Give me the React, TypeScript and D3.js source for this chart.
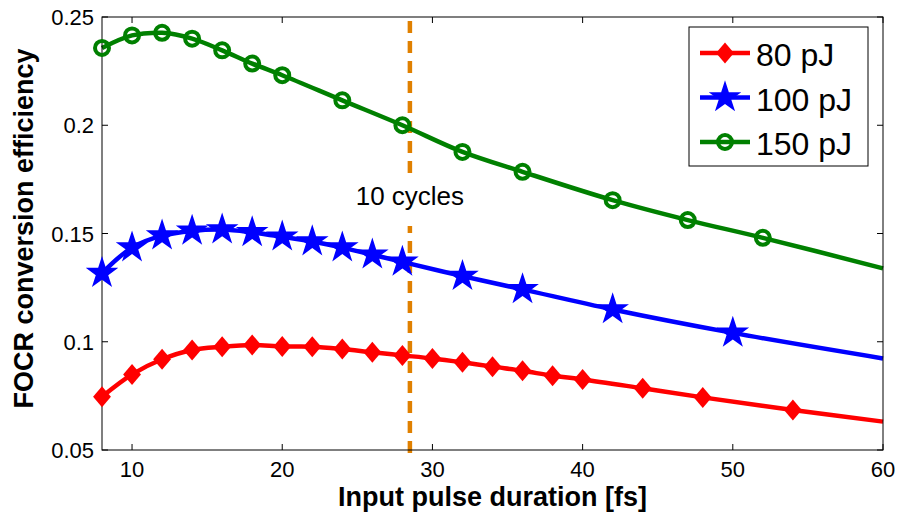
import * as d3 from "d3";
import { useEffect, useRef } from "react";

// pulse durations (fs) where markers sit, and efficiencies
const durations80 = [8, 10, 12, 14, 16, 18, 20, 22, 24, 26, 28, 30, 32, 34, 36, 38, 40, 44, 48, 54];
const eff80 = [0.0746, 0.0849, 0.0919, 0.0962, 0.0977, 0.0985, 0.0978, 0.0977, 0.0966, 0.0951, 0.0937, 0.0923, 0.0905, 0.0885, 0.0866, 0.0843, 0.0826, 0.0785, 0.0743, 0.0685];

const durations100 = [8, 10, 12, 14, 16, 18, 20, 22, 24, 26, 28, 32, 36, 42, 50];
const eff100 = [0.1317, 0.1435, 0.149, 0.1512, 0.1518, 0.1505, 0.1485, 0.1463, 0.1435, 0.1402, 0.1369, 0.1303, 0.1242, 0.1149, 0.1041];

const durations150 = [8, 10, 12, 14, 16, 18, 20, 24, 28, 32, 36, 42, 47, 52];
const eff150 = [0.2357, 0.2415, 0.2427, 0.24, 0.2346, 0.2285, 0.2231, 0.2115, 0.2, 0.1877, 0.1785, 0.1654, 0.1562, 0.148];

// where the curves end (no marker there)
const tailDuration = 60;
const tail80 = 0.0631;
const tail100 = 0.0923;
const tail150 = 0.1339;

const seriesNames = ["80 pJ", "100 pJ", "150 pJ"];
const xTicks = [10, 20, 30, 40, 50, 60];
const yTicks = [0.05, 0.1, 0.15, 0.2, 0.25];
const yTickLabels = ["0.05", "0.1", "0.15", "0.2", "0.25"];
const cycleMark = 28.5;
const cycleLabel = "10 cycles";

const FONT = "'Liberation Sans', Arial, sans-serif";

const App = () => {
  const svgRef = useRef<SVGSVGElement>(null);

  useEffect(() => {
    const svg = d3.select(svgRef.current);
    svg.selectAll("*").remove();

    const x = d3.scaleLinear().domain([8, 60]).range([102, 883]);
    const y = d3.scaleLinear().domain([0.05, 0.25]).range([450, 17]);
    const [x0, x1] = x.range();
    const [y0, y1] = y.range();

    const series = [
      { name: seriesNames[0], xs: durations80, ys: eff80, tail: tail80, color: "#ff0000", marker: "diamond" },
      { name: seriesNames[1], xs: durations100, ys: eff100, tail: tail100, color: "#0000ff", marker: "star" },
      { name: seriesNames[2], xs: durations150, ys: eff150, tail: tail150, color: "#008000", marker: "circle" },
    ];

    svg.append("rect").attr("width", 899).attr("height", 514).attr("fill", "#fff");

    //dashed "10 cycles" line
    svg.append("line")
      .attr("x1", x(cycleMark)).attr("x2", x(cycleMark))
      .attr("y1", 21).attr("y2", 456)
      .attr("stroke", "#e08000")
      .attr("stroke-width", 4.5)
      .attr("stroke-dasharray", "12,8");

    svg.append("rect")
      .attr("x", x(cycleMark) - 62).attr("y", 174)
      .attr("width", 124).attr("height", 52)
      .attr("fill", "#fff");

    svg.append("text")
      .attr("x", x(cycleMark)).attr("y", 205)
      .attr("text-anchor", "middle")
      .style("font-family", FONT).style("font-size", "26px")
      .text(cycleLabel);

    //curves
    const line = d3.line<[number, number]>()
      .x(d => x(d[0]))
      .y(d => y(d[1]))
      .curve(d3.curveCatmullRom);

    const drawMarker = (g: any, kind: string, color: string, cx: number, cy: number) => {
      if (kind === "diamond") {
        const r = 10.5;
        g.append("path")
          .attr("d", `M${cx},${cy - r}L${cx + r * 0.85},${cy}L${cx},${cy + r}L${cx - r * 0.85},${cy}Z`)
          .attr("fill", color);
      } else if (kind === "star") {
        g.append("path")
          .attr("d", d3.symbol(d3.symbolStar, 330)())
          .attr("transform", `translate(${cx},${cy})`)
          .attr("fill", color);
      } else {
        g.append("circle")
          .attr("cx", cx).attr("cy", cy).attr("r", 7)
          .attr("fill", "none")
          .attr("stroke", color)
          .attr("stroke-width", 4);
      }
    };

    series.forEach(s => {
      const pts: [number, number][] = s.xs.map((d, i) => [d, s.ys[i]]);
      pts.push([tailDuration, s.tail]);
      svg.append("path")
        .attr("d", line(pts))
        .attr("fill", "none")
        .attr("stroke", s.color)
        .attr("stroke-width", 4.5);
    });

    //axes box
    svg.append("rect")
      .attr("x", x0).attr("y", y1)
      .attr("width", x1 - x0).attr("height", y0 - y1)
      .attr("fill", "none").attr("stroke", "#000").attr("stroke-width", 1);

    const tickLen = 6;
    xTicks.forEach(t => {
      svg.append("line").attr("x1", x(t)).attr("x2", x(t)).attr("y1", y0).attr("y2", y0 - tickLen).attr("stroke", "#000");
      svg.append("line").attr("x1", x(t)).attr("x2", x(t)).attr("y1", y1).attr("y2", y1 + tickLen).attr("stroke", "#000");
      svg.append("text")
        .attr("x", x(t)).attr("y", 477)
        .attr("text-anchor", "middle")
        .style("font-family", FONT).style("font-size", "22px")
        .text(String(t));
    });
    yTicks.forEach((t, i) => {
      svg.append("line").attr("x1", x0).attr("x2", x0 + tickLen).attr("y1", y(t)).attr("y2", y(t)).attr("stroke", "#000");
      svg.append("line").attr("x1", x1).attr("x2", x1 - tickLen).attr("y1", y(t)).attr("y2", y(t)).attr("stroke", "#000");
      svg.append("text")
        .attr("x", x0 - 8).attr("y", y(t) + 8)
        .attr("text-anchor", "end")
        .style("font-family", FONT).style("font-size", "22px")
        .text(yTickLabels[i]);
    });

    //markers on top of the axes
    series.forEach(s => {
      const g = svg.append("g");
      s.xs.forEach((d, i) => drawMarker(g, s.marker, s.color, x(d), y(s.ys[i])));
    });

    //axis labels
    svg.append("text")
      .attr("x", (x0 + x1) / 2).attr("y", 506)
      .attr("text-anchor", "middle")
      .style("font-family", FONT).style("font-size", "27px").style("font-weight", "bold")
      .text("Input pulse duration [fs]");

    svg.append("text")
      .attr("transform", `translate(33,${(y0 + y1) / 2 - 5}) rotate(-90)`)
      .attr("text-anchor", "middle")
      .style("font-family", FONT).style("font-size", "27px").style("font-weight", "bold")
      .text("FOCR conversion efficiency");

    //legend
    const legend = svg.append("g");
    legend.append("rect")
      .attr("x", 689).attr("y", 27)
      .attr("width", 179).attr("height", 139)
      .attr("fill", "#fff").attr("stroke", "#000").attr("stroke-width", 1);
    series.forEach((s, i) => {
      const ly = 53 + i * 44.5;
      legend.append("line")
        .attr("x1", 700).attr("x2", 750).attr("y1", ly).attr("y2", ly)
        .attr("stroke", s.color).attr("stroke-width", 4.5);
      drawMarker(legend, s.marker, s.color, 725, ly);
      legend.append("text")
        .attr("x", 756).attr("y", ly + 13)
        .style("font-family", FONT).style("font-size", "32px")
        .text(s.name);
    });
  }, []);

  return (
    <svg
      ref={svgRef}
      width={899}
      height={514}
      style={{ position: "absolute", left: 0, top: 0, display: "block" }}
    />
  );
};

export default App;
